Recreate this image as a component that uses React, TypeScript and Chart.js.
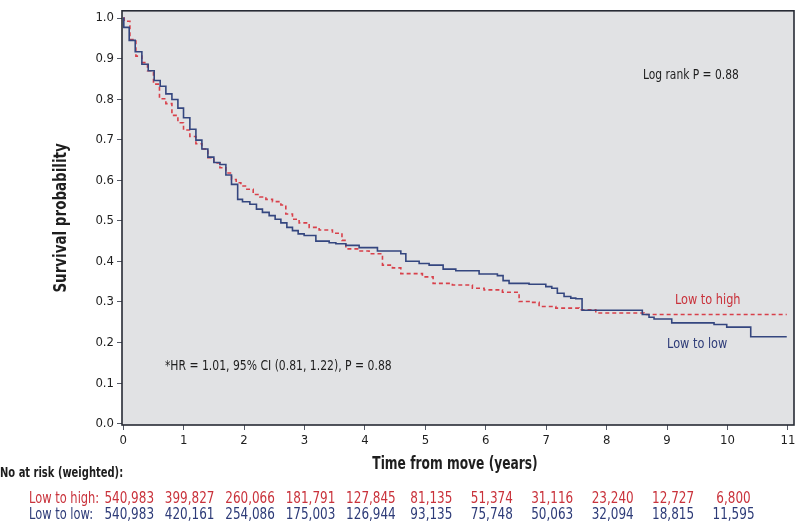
import React, { useEffect, useRef } from "react";
import { Chart, registerables } from "chart.js";

Chart.register(...registerables);

const FONT = "'Liberation Sans Narrow', 'Arial Narrow', 'DejaVu Sans Condensed', sans-serif";

const xTickValues = [0, 1, 2, 3, 4, 5, 6, 7, 8, 9, 10, 11];
const yTickValues = [0, 0.1, 0.2, 0.3, 0.4, 0.5, 0.6, 0.7, 0.8, 0.9, 1.0];

// Low to low (blue, solid): step times (years) and survival probabilities
const lowLowTimes = [0, 0.01, 0.099, 0.199, 0.309, 0.414, 0.513, 0.612, 0.706, 0.806, 0.905, 0.998, 1.103, 1.203, 1.302, 1.401, 1.5, 1.6, 1.699, 1.792, 1.894, 1.974, 2.096, 2.205, 2.304, 2.415, 2.514, 2.609, 2.708, 2.801, 2.895, 2.994, 3.188, 3.408, 3.519, 3.684, 3.904, 4.207, 4.594, 4.677, 4.897, 5.062, 5.294, 5.504, 5.889, 6.192, 6.286, 6.385, 6.716, 6.993, 7.092, 7.184, 7.295, 7.406, 7.489, 7.593, 8.59, 8.701, 8.784, 9.077, 9.777, 9.987, 10.384, 10.98];
const lowLowSurv = [1.0, 0.977, 0.945, 0.917, 0.886, 0.87, 0.846, 0.832, 0.813, 0.799, 0.778, 0.754, 0.726, 0.699, 0.677, 0.657, 0.644, 0.639, 0.613, 0.59, 0.553, 0.547, 0.541, 0.529, 0.521, 0.513, 0.504, 0.495, 0.484, 0.476, 0.468, 0.464, 0.45, 0.446, 0.4435, 0.4395, 0.434, 0.4257, 0.419, 0.4006, 0.395, 0.391, 0.381, 0.377, 0.369, 0.365, 0.3526, 0.346, 0.3436, 0.338, 0.334, 0.3216, 0.3136, 0.3095, 0.308, 0.2795, 0.269, 0.2624, 0.258, 0.2485, 0.2446, 0.238, 0.2144, 0.2144];

// Low to high (red, dashed)
const lowHighTimes = [0, 0.017, 0.111, 0.21, 0.309, 0.402, 0.501, 0.6, 0.706, 0.806, 0.905, 0.998, 1.103, 1.203, 1.302, 1.401, 1.5, 1.6, 1.699, 1.792, 1.87, 1.947, 2.046, 2.151, 2.261, 2.361, 2.47, 2.609, 2.691, 2.801, 2.911, 3.077, 3.242, 3.462, 3.62, 3.684, 3.904, 4.069, 4.29, 4.455, 4.594, 4.951, 5.128, 5.447, 5.778, 5.972, 6.275, 6.551, 6.716, 6.882, 7.158, 7.544, 7.82, 8.619, 10.98];
const lowHighSurv = [1.0, 0.992, 0.947, 0.906, 0.89, 0.87, 0.837, 0.801, 0.789, 0.76, 0.742, 0.724, 0.708, 0.69, 0.677, 0.656, 0.643, 0.631, 0.618, 0.602, 0.594, 0.586, 0.578, 0.565, 0.559, 0.553, 0.5475, 0.539, 0.517, 0.504, 0.495, 0.484, 0.4776, 0.4695, 0.4518, 0.431, 0.4257, 0.419, 0.391, 0.384, 0.37, 0.362, 0.346, 0.342, 0.334, 0.33, 0.324, 0.3014, 0.299, 0.289, 0.285, 0.281, 0.273, 0.269, 0.269];

// Number at risk table
const riskTimes = [0, 1, 2, 3, 4, 5, 6, 7, 8, 9, 10];
const riskLowHigh = ["540,983", "399,827", "260,066", "181,791", "127,845", "81,135", "51,374", "31,116", "23,240", "12,727", "6,800"];
const riskLowLow = ["540,983", "420,161", "254,086", "175,003", "126,944", "93,135", "75,748", "50,063", "32,094", "18,815", "11,595"];

const RED = "#d8404a";
const RED_TEXT = "#c9323b";
const BLUE = "#34467f";
const BLUE_TEXT = "#2d3b78";
const TEXT = "#1e1e1e";

function drawText(ctx: any, text: string, x: number, y: number, align: string, sx: number, rotate = 0) {
  ctx.save();
  ctx.translate(x, y);
  if (rotate) ctx.rotate(rotate);
  ctx.scale(sx, 1);
  ctx.textAlign = align;
  ctx.textBaseline = "middle";
  ctx.fillText(text, 0, 0);
  ctx.restore();
}

const overlayPlugin = {
  id: "overlay",
  beforeDatasetsDraw(chart: any) {
    const { ctx, chartArea } = chart;
    ctx.save();
    ctx.fillStyle = "#e1e2e4";
    ctx.fillRect(chartArea.left, chartArea.top, chartArea.right - chartArea.left, chartArea.bottom - chartArea.top);
    ctx.restore();
  },
  afterDatasetsDraw(chart: any) {
    const { ctx, chartArea } = chart;
    ctx.save();
    ctx.strokeStyle = "#272b35";
    ctx.lineWidth = 1.6;
    ctx.strokeRect(chartArea.left, chartArea.top, chartArea.right - chartArea.left, chartArea.bottom - chartArea.top);
    ctx.restore();
  },
  afterDraw(chart: any) {
    const { ctx, chartArea } = chart;
    const xs = chart.scales.x;
    const ys = chart.scales.y;
    ctx.save();
    ctx.fillStyle = TEXT;
    ctx.font = `bold 17px ${FONT}`;
    drawText(ctx, "Survival probability", 62, (chartArea.top + chartArea.bottom) / 2, "center", 0.88, -Math.PI / 2);
    drawText(ctx, "Time from move (years)", (chartArea.left + chartArea.right) / 2 - 3, 465, "center", 0.8);

    ctx.font = `14px ${FONT}`;
    ctx.fillStyle = TEXT;
    drawText(ctx, "Log rank P = 0.88", xs.getPixelForValue(8.6), ys.getPixelForValue(0.858), "left", 0.85);
    drawText(ctx, "*HR = 1.01, 95% CI (0.81, 1.22), P = 0.88", xs.getPixelForValue(0.69), ys.getPixelForValue(0.1406), "left", 0.86);
    ctx.fillStyle = RED_TEXT;
    drawText(ctx, "Low to high", xs.getPixelForValue(9.13), ys.getPixelForValue(0.303), "left", 0.9);
    ctx.fillStyle = BLUE_TEXT;
    drawText(ctx, "Low to low", xs.getPixelForValue(9.0), ys.getPixelForValue(0.196), "left", 0.9);

    ctx.font = `bold 14px ${FONT}`;
    ctx.fillStyle = TEXT;
    drawText(ctx, "No at risk (weighted):", 0, 473, "left", 0.79);
    ctx.font = `15px ${FONT}`;
    const rows = [
      { label: "Low to high:", values: riskLowHigh, color: RED_TEXT, y: 499 },
      { label: "Low to low:", values: riskLowLow, color: BLUE_TEXT, y: 515 },
    ];
    rows.forEach((row) => {
      ctx.fillStyle = row.color;
      drawText(ctx, row.label, 29, row.y, "left", 0.85);
      row.values.forEach((v, i) => {
        drawText(ctx, v, xs.getPixelForValue(riskTimes[i]) + 6, row.y, "center", 0.89);
      });
    });
    ctx.restore();
  },
};

export default function App() {
  const ref = useRef<HTMLCanvasElement | null>(null);
  useEffect(() => {
    if (!ref.current) return;
    Chart.defaults.font.family = FONT;
    const chart = new Chart(ref.current, {
      type: "line",
      data: {
        datasets: [
          {
            label: "Low to low",
            data: lowLowTimes.map((t, i) => ({ x: t, y: lowLowSurv[i] })),
            borderColor: BLUE,
            borderWidth: 1.6,
            pointRadius: 0,
            stepped: "before",
            fill: false,
          },
          {
            label: "Low to high",
            data: lowHighTimes.map((t, i) => ({ x: t, y: lowHighSurv[i] })),
            borderColor: RED,
            borderWidth: 1.6,
            borderDash: [4, 3],
            pointRadius: 0,
            stepped: "before",
            fill: false,
          },
        ],
      },
      options: {
        responsive: false,
        animation: false,
        devicePixelRatio: 1,
        layout: { padding: { top: 6, right: 6, left: 0, bottom: 0 } },
        plugins: { legend: { display: false }, tooltip: { enabled: false } },
        scales: {
          x: {
            type: "linear",
            min: -0.02,
            max: 11.1,
            afterFit: (s: any) => {
              s.height = 98;
            },
            afterBuildTicks: (s: any) => {
              s.ticks = xTickValues.map((v) => ({ value: v }));
            },
            grid: { drawOnChartArea: false, tickLength: 5, tickColor: "#555a66", lineWidth: 1 },
            border: { display: false },
            ticks: {
              color: TEXT,
              font: { size: 13 },
              padding: 3,
              maxRotation: 0,
              callback: (v: any) => String(v),
            },
          },
          y: {
            type: "linear",
            min: -0.0032,
            max: 1.0178,
            afterFit: (s: any) => {
              s.width = 122;
            },
            afterBuildTicks: (s: any) => {
              s.ticks = yTickValues.map((v) => ({ value: v }));
            },
            grid: { drawOnChartArea: false, tickLength: 5, tickColor: "#555a66", lineWidth: 1 },
            border: { display: false },
            ticks: {
              color: TEXT,
              font: { size: 13 },
              padding: 3,
              callback: (v: any) => Number(v).toFixed(1),
            },
          },
        },
      },
      plugins: [overlayPlugin],
    });
    return () => chart.destroy();
  }, []);
  return (
    <div style={{ position: "fixed", left: 0, top: 0, width: 800, height: 523, background: "#fff" }}>
      <canvas ref={ref} width={800} height={523} style={{ display: "block" }} />
    </div>
  );
}
